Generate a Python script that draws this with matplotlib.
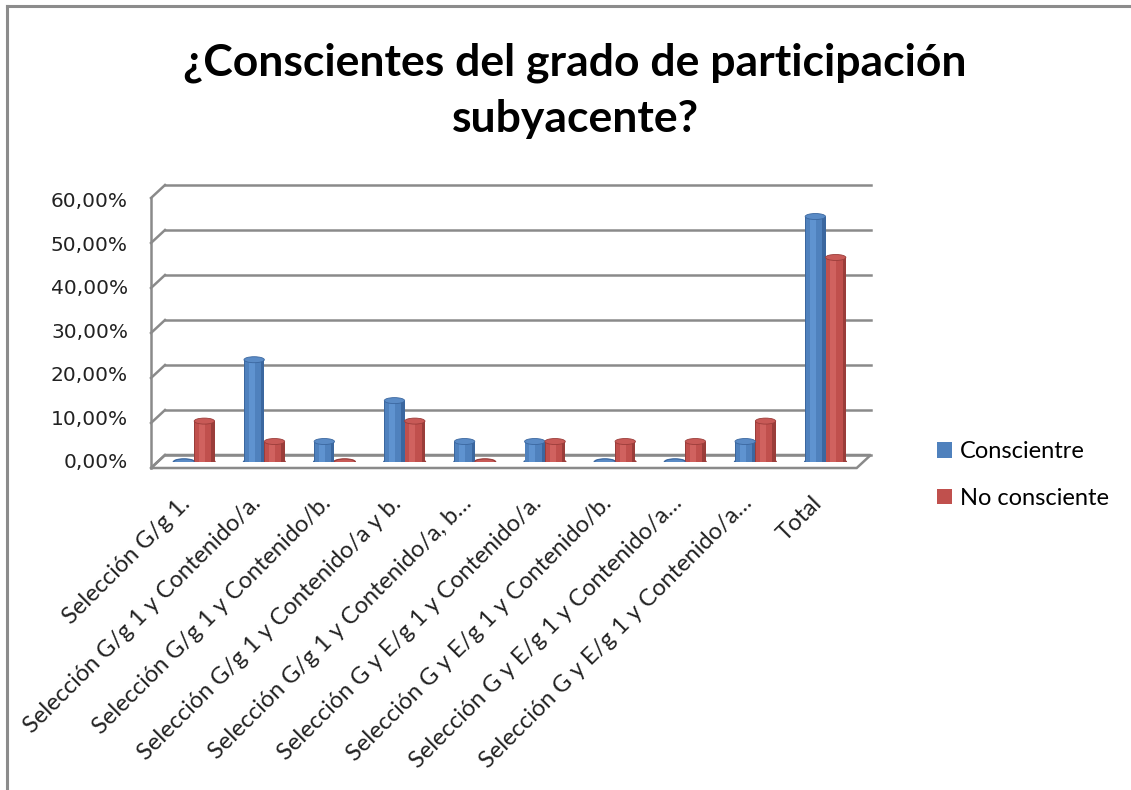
import matplotlib
matplotlib.use("Agg")
import matplotlib.pyplot as plt
import matplotlib.transforms as mtransforms
from matplotlib.patches import Ellipse, Patch, Polygon
from matplotlib.lines import Line2D
import numpy as np

# chart data (share of 22 answers)
categories = [
    "Selección G/g 1.",
    "Selección G/g 1 y Contenido/a.",
    "Selección G/g 1 y Contenido/b.",
    "Selección G/g 1 y Contenido/a y b.",
    "Selección G/g 1 y Contenido/a, b…",
    "Selección G y E/g 1 y Contenido/a.",
    "Selección G y E/g 1 y Contenido/b.",
    "Selección G y E/g 1 y Contenido/a…",
    "Selección G y E/g 1 y Contenido/a…",
    "Total",
]
consciente = [0.0, 22.73, 4.55, 13.64, 4.55, 4.55, 0.0, 0.0, 4.55, 54.55]
no_consciente = [9.09, 4.55, 0.0, 9.09, 0.0, 4.55, 4.55, 4.55, 9.09, 45.45]
series_names = ["Conscientre", "No consciente"]
yticks = [0, 10, 20, 30, 40, 50, 60]
ytick_labels = ["0,00%", "10,00%", "20,00%", "30,00%", "40,00%", "50,00%", "60,00%"]
title = "¿Conscientes del grado de participación\nsubyacente?"

FONT = ["Lato", "DejaVu Sans"]
plt.rcParams["font.family"] = FONT

W, H = 1131, 790
fig = plt.figure(figsize=(W / 100, H / 100), dpi=100)

# plot plane sits at mid depth of the 3D box
left_px, right_px, bot_px, top_px = 157, 862.7, 462, 192
ax = fig.add_axes([left_px / W, 1 - bot_px / H,
                   (right_px - left_px) / W, (bot_px - top_px) / H])
ax.set_xlim(-0.53, 9.53)
ax.set_ylim(0, 60)
ax.axis("off")

def shift(dx, dy):
    return mtransforms.ScaledTranslation(dx / 100, dy / 100, fig.dpi_scale_trans)

grid_col = "#8a8a8a"
blend = mtransforms.blended_transform_factory(ax.transAxes, ax.transData)
back = blend + shift(8, 7)
front = blend + shift(-6, -6)

# floor (behind the columns)
corners = [front.transform((0, 0)), front.transform((1, 0)),
           back.transform((1, 0)), back.transform((0, 0))]
fig.add_artist(Polygon([(x / W, y / H) for x, y in corners], closed=True,
                       transform=fig.transFigure, facecolor="white",
                       edgecolor=grid_col, lw=1.8, zorder=-1))

# back wall gridlines + left wall diagonals
for v in yticks:
    ax.add_line(Line2D([0, 1], [v, v], transform=back, color=grid_col,
                       lw=1.8, clip_on=False, zorder=1))
    p0 = front.transform((0, v))
    p1 = back.transform((0, v))
    fig.add_artist(Line2D([p0[0] / W, p1[0] / W], [p0[1] / H, p1[1] / H],
                          transform=fig.transFigure, color=grid_col, lw=1.8,
                          zorder=-1))
p0 = front.transform((0, 0))
p1 = front.transform((0, 60))
fig.add_artist(Line2D([p0[0] / W, p1[0] / W], [p0[1] / H, p1[1] / H],
                      transform=fig.transFigure, color=grid_col, lw=1.8,
                      zorder=-1))

# cylinder-ish columns
x = np.arange(len(categories))
bw = 0.29
cap_h = 6 / 4.5  # ellipse height in data units (about 6 px)
styles = [
    ("#4F81BD", "#3B679F", "#5F93D0", "#5A8BC6"),
    ("#C0504D", "#9A3D3A", "#D0625F", "#C85a57"),
]
for k, vals in enumerate([consciente, no_consciente]):
    base, dark, light, cap = styles[k]
    xs = x + (k - 0.5) * bw
    ax.bar(xs, vals, bw, color=dark, zorder=3, lw=0)
    ax.bar(xs - bw * 0.06, vals, bw * 0.8, color=base, zorder=3, lw=0)
    ax.bar(xs - bw * 0.12, vals, bw * 0.3, color=light, zorder=3, lw=0)
    for xi, v in zip(xs, vals):
        ax.add_patch(Ellipse((xi, 0), bw * 1.05, cap_h, color=dark, zorder=2.9))
        ax.add_patch(Ellipse((xi, v), bw, cap_h, facecolor=cap,
                             edgecolor=dark, lw=0.6, zorder=3.5))

# y tick labels on the front plane (slightly compressed by the perspective)
for v, lab in zip(yticks, ytick_labels):
    ax.text((128 - left_px) / (right_px - left_px), v * 261.5 / 270, lab,
            transform=blend + shift(0, -1), ha="right", va="center",
            fontsize=14.5, color="#222222", family="DejaVu Sans")

# category labels, rotated
for xi, lab in zip(x, categories):
    ax.text(xi - 0.17, 0, lab, transform=ax.transData + shift(5, -38),
            rotation=45, rotation_mode="anchor", ha="right", va="center",
            fontsize=17, color="#222222")

fig.text(575 / W, 1 - 91 / H, title, ha="center", va="center",
         fontsize=32, fontweight="bold", linespacing=1.48, color="black")

handles = [Patch(facecolor=styles[0][0], edgecolor="none"),
           Patch(facecolor=styles[1][0], edgecolor="none")]
fig.legend(handles, series_names, loc="upper left",
           bbox_to_anchor=(928 / W, 1 - 432 / H), frameon=False,
           fontsize=17, handlelength=0.62, handleheight=0.62,
           handletextpad=0.35, labelspacing=1.08, borderaxespad=0)

# outer frame: left and top edges
fig.add_artist(Line2D([7 / W, 7 / W], [0, 1 - 6 / H], transform=fig.transFigure,
                      color="#8c8c8c", lw=2.2))
fig.add_artist(Line2D([7 / W, 1], [1 - 6 / H, 1 - 6 / H],
                      transform=fig.transFigure, color="#8c8c8c", lw=2.2))

fig.savefig("out.png", dpi=100, facecolor="white")
